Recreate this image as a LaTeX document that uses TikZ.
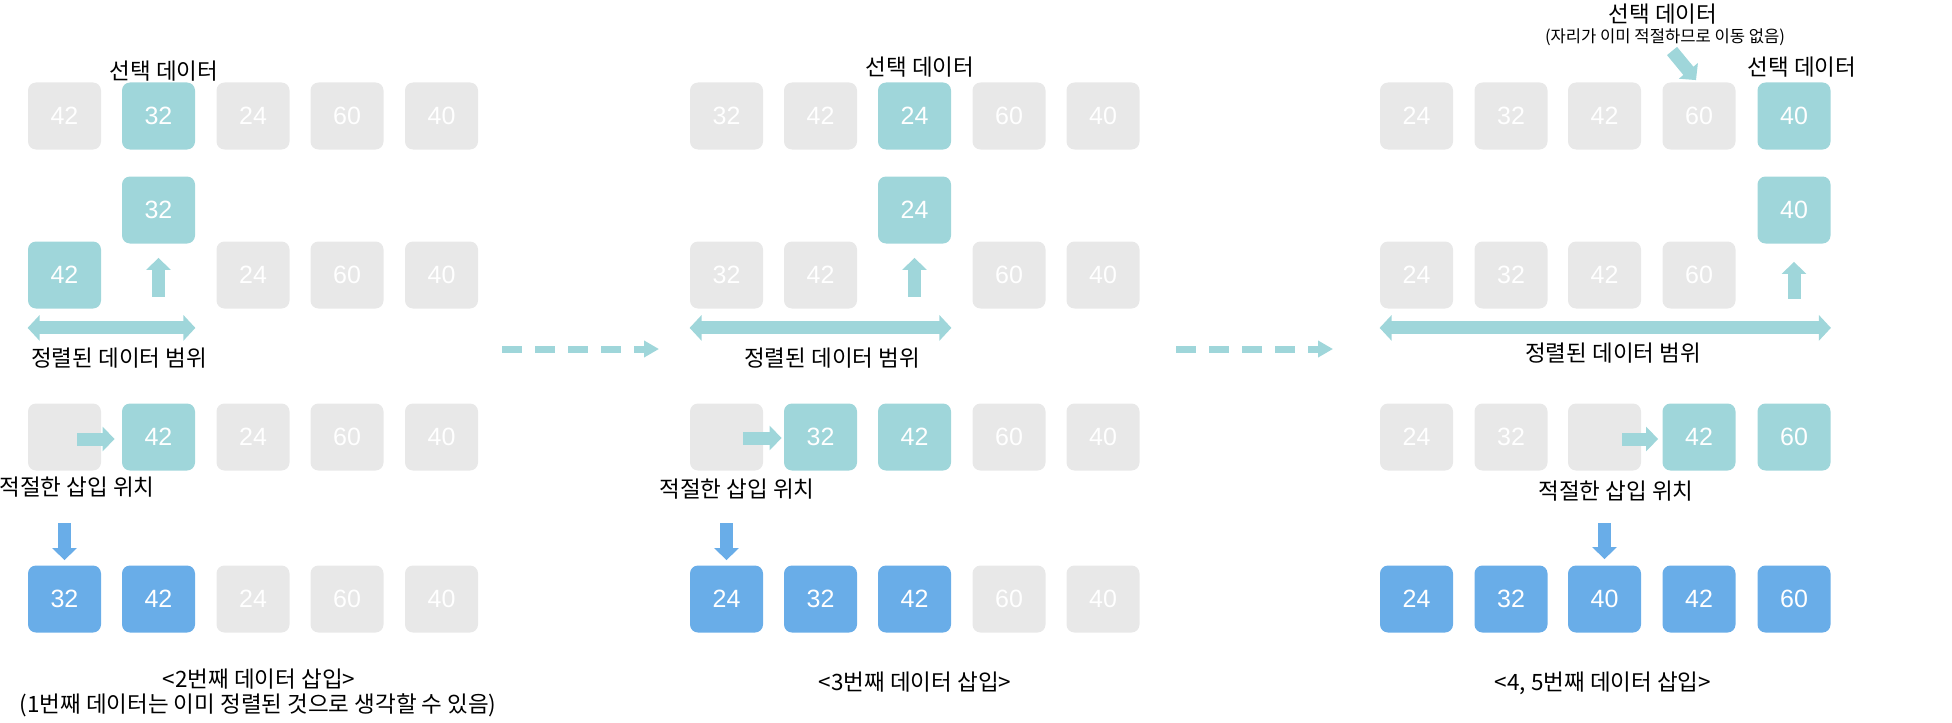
\documentclass[tikz,border=0pt]{standalone}
\usepackage{fontspec}
\setmainfont{Liberation Sans}
\newfontfamily\kr{Noto Sans CJK KR}
\usetikzlibrary{arrows.meta,calc}
\definecolor{selteal}{HTML}{9FD6DA}
\definecolor{doneblue}{HTML}{69ADE8}
\definecolor{idlegray}{HTML}{E8E8E8}

\begin{document}
\begin{tikzpicture}[x=0.5pt,y=-0.5pt,
  box/.style={rounded corners=4pt,minimum width=36.5pt,minimum height=33.5pt,inner sep=0pt,text=white,font=\fontsize{12.5}{12.5}\selectfont},
  idle/.style={box,fill=idlegray},
  sel/.style={box,fill=selteal},
  done/.style={box,fill=doneblue},
  lbl/.style={inner sep=0pt,text=black,font=\kr\fontsize{11.25}{12}\selectfont},
  note/.style={inner sep=0pt,text=black,font=\kr\fontsize{8.3}{10}\selectfont},
  fat/.style={line width=6.5pt,-{Triangle[width=12pt,length=6pt]}},
  tealfat/.style={fat,draw=selteal},
  bluefat/.style={fat,draw=doneblue},
  sorted/.style={line width=6.5pt,draw=selteal,{Triangle[width=12.5pt,length=6pt]}-{Triangle[width=12.5pt,length=6pt]}},
  flow/.style={line width=3.5pt,draw=selteal,dash pattern=on 10pt off 6.5pt,-{Triangle[width=8pt,length=7.5pt]}}]
  \useasboundingbox (0,0) rectangle (1952,722);

  % 2nd insertion
  \node[lbl] (selA) at (164,71) {선택 데이터};
  \node[idle] (a11) at (64.5,116) {42};
  \node[sel] (a12) at (158.5,116) {32};
  \node[idle] (a13) at (253,116) {24};
  \node[idle] (a14) at (347,116) {60};
  \node[idle] (a15) at (441.5,116) {40};
  \node[sel] (a22) at (158.5,210) {32};
  \node[sel] (a31) at (64.5,275) {42};
  \node[idle] (a33) at (253,275) {24};
  \node[idle] (a34) at (347,275) {60};
  \node[idle] (a35) at (441.5,275) {40};
  \draw[tealfat] ($(a22.south)+(0,53)$) -- ($(a22.south)+(0,14)$);
  \draw[sorted] ($(a31.south west)+(0,19)$) -- ($(a22.east |- a31.south)+(0,19)$);
  \node[lbl] (rangeA) at (119,358) {정렬된 데이터 범위};
  \node[idle] (a41) at (64.5,437) {};
  \node[sel] (a42) at (158.5,437) {42};
  \node[idle] (a43) at (253,437) {24};
  \node[idle] (a44) at (347,437) {60};
  \node[idle] (a45) at (441.5,437) {40};
  \draw[tealfat] ($(a41.center)+(12.5,2)$) -- ($(a42.west)+(-7,2)$);
  \node[lbl] (posA) at (77,487) {적절한 삽입 위치};
  \node[done] (a51) at (64.5,599) {32};
  \node[done] (a52) at (158.5,599) {42};
  \node[idle] (a53) at (253,599) {24};
  \node[idle] (a54) at (347,599) {60};
  \node[idle] (a55) at (441.5,599) {40};
  \draw[bluefat] ($(a51.north)+(0,-42)$) -- ($(a51.north)+(0,-5)$);
  \node[lbl] (capA) at (259,679) {<2번째 데이터 삽입>};
  \node[lbl] (noteA) at (258,705) {(1번째 데이터는 이미 정렬된 것으로 생각할 수 있음)};

  \coordinate (flowA) at (502,349);
  \coordinate (flowB) at (659,349);
  \draw[flow] (flowA) -- (flowB);

  % 3rd insertion
  \node[lbl] (selB) at (920,67) {선택 데이터};
  \node[idle] (b11) at (726.5,116) {32};
  \node[idle] (b12) at (820.5,116) {42};
  \node[sel] (b13) at (914.5,116) {24};
  \node[idle] (b14) at (1009,116) {60};
  \node[idle] (b15) at (1103,116) {40};
  \node[sel] (b23) at (914.5,210) {24};
  \node[idle] (b31) at (726.5,275) {32};
  \node[idle] (b32) at (820.5,275) {42};
  \node[idle] (b34) at (1009,275) {60};
  \node[idle] (b35) at (1103,275) {40};
  \draw[tealfat] ($(b23.south)+(0,53)$) -- ($(b23.south)+(0,14)$);
  \draw[sorted] ($(b31.south west)+(0,19)$) -- ($(b23.east |- b31.south)+(0,19)$);
  \node[lbl] (rangeB) at (832,358) {정렬된 데이터 범위};
  \node[idle] (b41) at (726.5,437) {};
  \node[sel] (b42) at (820.5,437) {32};
  \node[sel] (b43) at (914.5,437) {42};
  \node[idle] (b44) at (1009,437) {60};
  \node[idle] (b45) at (1103,437) {40};
  \draw[tealfat] ($(b41.center)+(16.5,1)$) -- ($(b42.west)+(-2,1)$);
  \node[lbl] (posB) at (737,489) {적절한 삽입 위치};
  \node[done] (b51) at (726.5,599) {24};
  \node[done] (b52) at (820.5,599) {32};
  \node[done] (b53) at (914.5,599) {42};
  \node[idle] (b54) at (1009,599) {60};
  \node[idle] (b55) at (1103,599) {40};
  \draw[bluefat] ($(b51.north)+(0,-42)$) -- ($(b51.north)+(0,-5)$);
  \node[lbl] (capB) at (915,682) {<3번째 데이터 삽입>};

  \coordinate (flowC) at (1176,349);
  \coordinate (flowD) at (1333,349);
  \draw[flow] (flowC) -- (flowD);

  % 4th and 5th insertion
  \node[lbl] (keepC) at (1663,14) {선택 데이터};
  \node[note] (whyC) at (1665,37) {(자리가 이미 적절하므로 이동 없음)};
  \node[lbl] (selC) at (1802,67) {선택 데이터};
  \node[idle] (c11) at (1416.5,116) {24};
  \node[idle] (c12) at (1511,116) {32};
  \node[idle] (c13) at (1604.5,116) {42};
  \node[idle] (c14) at (1699,116) {60};
  \node[sel] (c15) at (1794,116) {40};
  \coordinate (dropC) at (1672,51);
  \draw[tealfat] (dropC) -- ($(c14.north)+(-3,-2)$);
  \node[sel] (c25) at (1794,210) {40};
  \node[idle] (c31) at (1416.5,275) {24};
  \node[idle] (c32) at (1511,275) {32};
  \node[idle] (c33) at (1604.5,275) {42};
  \node[idle] (c34) at (1699,275) {60};
  \draw[tealfat] ($(c25.south)+(0,55)$) -- ($(c25.south)+(0,18)$);
  \draw[sorted] ($(c31.south west)+(0,19)$) -- ($(c25.east |- c31.south)+(0,19)$);
  \node[lbl] (rangeC) at (1613,353) {정렬된 데이터 범위};
  \node[idle] (c41) at (1416.5,437) {24};
  \node[idle] (c42) at (1511,437) {32};
  \node[idle] (c43) at (1604.5,437) {};
  \node[sel] (c44) at (1699,437) {42};
  \node[sel] (c45) at (1794,437) {60};
  \draw[tealfat] ($(c43.center)+(17.5,2)$) -- ($(c44.west)+(-4,2)$);
  \node[lbl] (posC) at (1616,491) {적절한 삽입 위치};
  \node[done] (c51) at (1416.5,599) {24};
  \node[done] (c52) at (1511,599) {32};
  \node[done] (c53) at (1604.5,599) {40};
  \node[done] (c54) at (1699,599) {42};
  \node[done] (c55) at (1794,599) {60};
  \draw[bluefat] ($(c53.north)+(0,-42)$) -- ($(c53.north)+(0,-6)$);
  \node[lbl] (capC) at (1603,683) {<4, 5번째 데이터 삽입>};
\end{tikzpicture}
\end{document}
